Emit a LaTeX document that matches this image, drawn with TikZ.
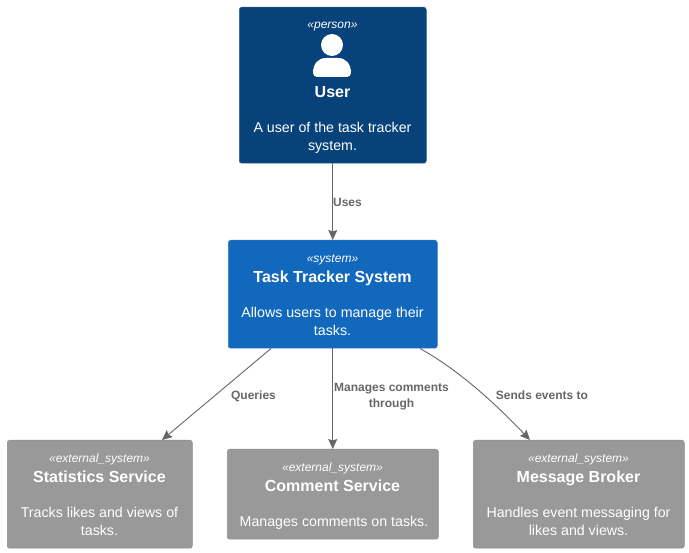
\documentclass[tikz,border=0pt]{standalone}
\usepackage{fontspec}
\setmainfont{Liberation Sans}
\usetikzlibrary{arrows.meta}
\definecolor{persfill}{HTML}{08427B}
\definecolor{sysfill}{HTML}{1168BD}
\definecolor{extfill}{HTML}{999999}
\definecolor{linkcol}{HTML}{666666}
\tikzset{
  boxbase/.style={rectangle,rounded corners=2.5pt,inner sep=0pt,anchor=north west,line width=0.5pt},
  persbox/.style={boxbase,fill=persfill,draw=persfill!85!white},
  sysbox/.style={boxbase,fill=sysfill,draw=sysfill!85!white},
  extbox/.style={boxbase,fill=extfill,draw=extfill!92!black},
  stereo/.style={anchor=base,inner sep=0pt,text=white,font=\fontsize{12}{12}\selectfont\itshape},
  title/.style={anchor=base,inner sep=0pt,text=white,font=\fontsize{16}{16}\selectfont\bfseries},
  descr/.style={anchor=base,inner sep=0pt,text=white,font=\fontsize{14.2}{14.2}\selectfont},
  linklabel/.style={anchor=base,inner sep=0pt,text=linkcol,font=\fontsize{12}{12}\selectfont\bfseries},
  link/.style={draw=linkcol,line width=0.9pt,-{Stealth[length=10pt,width=9pt,inset=1.5pt]}}
}
\begin{document}
\begin{tikzpicture}[x=1pt,y=-1pt]
\useasboundingbox (0,0) rectangle (689,553);
% boxes
\node[persbox,minimum width=187pt,minimum height=156pt] (user) at (239,7) {};
\node[sysbox,minimum width=209pt,minimum height=108pt] (sys) at (228,240) {};
\node[extbox,minimum width=185pt,minimum height=108pt] (stats) at (7,440) {};
\node[extbox,minimum width=211pt,minimum height=90pt] (comment) at (227,449) {};
\node[extbox,minimum width=211pt,minimum height=108pt] (broker) at (473,440) {};
% user
\node[stereo] (userst) at (332.5,28.7) {«person»};
\fill[white] (332,45) circle (11);
\fill[white] (313,73) .. controls (313,64) and (318,58) .. (326,58) -- (338,58) .. controls (346,58) and (351,64) .. (351,73)
  arc[start angle=0,end angle=90,radius=4] -- (317,77) arc[start angle=90,end angle=180,radius=4] -- cycle;
\node[title] (usert) at (332.5,97.7) {User};
\node[descr] (userd1) at (332.5,132.7) {A user of the task tracker};
\node[descr] (userd2) at (332.5,150.7) {system.};
% system
\node[stereo] (sysst) at (332.5,262.7) {«system»};
\node[title] (syst) at (332.5,282.7) {Task Tracker System};
\node[descr] (sysd1) at (332.5,317.7) {Allows users to manage their};
\node[descr] (sysd2) at (332.5,335.7) {tasks.};
% stats
\node[stereo] (statsst) at (99.5,462.7) {«external\_system»};
\node[title] (statst) at (99.5,482.7) {Statistics Service};
\node[descr] (statsd1) at (99.5,517.7) {Tracks likes and views of};
\node[descr] (statsd2) at (99.5,535.7) {tasks.};
% comment
\node[stereo] (commentst) at (332.5,471.7) {«external\_system»};
\node[title] (commentt) at (332.5,491.7) {Comment Service};
\node[descr] (commentd1) at (334,526.7) {Manages comments on tasks.};
% broker
\node[stereo] (brokerst) at (578.5,462.7) {«external\_system»};
\node[title] (brokert) at (578.5,482.7) {Message Broker};
\node[descr] (brokerd1) at (578.5,517.7) {Handles event messaging for};
\node[descr] (brokerd2) at (578.5,535.7) {likes and views.};
% links
\draw[link] (user.south) -- (sys.north);
\draw[link] ([xshift=43pt]sys.south west) -- ([xshift=155pt]stats.north west);
\draw[link] (sys.south) -- (comment.north);
\draw[link] ([xshift=192pt]sys.south west) .. controls (455,368) and (490,398) .. ([xshift=57pt]broker.north west);
% link labels
\node[linklabel] (l1) at (347.5,206.7) {Uses};
\node[linklabel] (l2) at (253.5,399.7) {Queries};
\node[linklabel] (l3) at (391.5,391.7) {Manages comments};
\node[linklabel] (l3b) at (391.5,407.7) {through};
\node[linklabel] (l4) at (542,399.7) {Sends events to};
\end{tikzpicture}
\end{document}
